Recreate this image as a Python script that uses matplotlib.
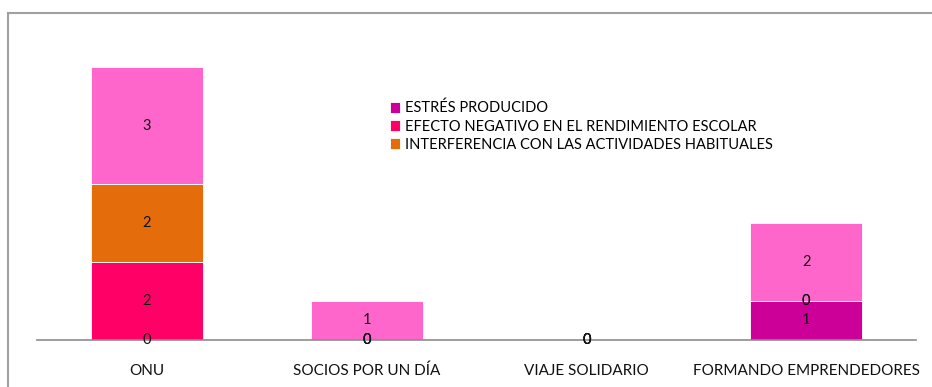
import matplotlib.pyplot as plt
from matplotlib.lines import Line2D
import numpy as np

plt.rcParams['font.family'] = ['Lato', 'DejaVu Sans']

categorias = ['ONU', 'SOCIOS POR UN DÍA', 'VIAJE SOLIDARIO', 'FORMANDO EMPRENDEDORES']
estres = [0, 0, 0, 1]
efecto_negativo = [2, 0, 0, 0]
interferencia = [2, 0, 0, 0]
otros = [3, 1, 0, 2]

series = [
    ('ESTRÉS PRODUCIDO', estres, '#CC0099'),
    ('EFECTO NEGATIVO EN EL RENDIMIENTO ESCOLAR', efecto_negativo, '#FF0066'),
    ('INTERFERENCIA CON LAS ACTIVIDADES HABITUALES', interferencia, '#E46C0A'),
    ('_otros', otros, '#FF66CC'),
]

W, H = 932, 387
fig = plt.figure(figsize=(W / 100, H / 100), dpi=100)
ax = fig.add_axes([37 / W, 1 - 340 / H, (916 - 37) / W, (340 - 28) / H])

x = np.arange(len(categorias))
base = np.zeros(len(categorias))
for nombre, valores, color in series:
    barras = ax.bar(x, valores, width=0.51, bottom=base, color=color,
                    edgecolor='white', linewidth=0.6, label=nombre)
    ax.bar_label(barras, label_type='center', fontsize=10.5, color='#111111')
    base += np.array(valores)

ax.set_xlim(-0.5, len(categorias) - 0.5)
ax.set_ylim(0, 8)
ax.set_xticks(x)
ax.set_xticklabels(categorias, fontsize=11, color='#111111')
ax.tick_params(axis='x', length=0, pad=17)
ax.set_yticks([])
for lado in ['top', 'right', 'left']:
    ax.spines[lado].set_visible(False)
ax.spines['bottom'].set_color('#8C8C8C')
ax.spines['bottom'].set_linewidth(1.2)

ax.legend(loc='upper left', bbox_to_anchor=(390 / W, 1 - 101 / H),
          bbox_transform=fig.transFigure, frameon=False, fontsize=10.5,
          handlelength=0.7, handleheight=0.7, handletextpad=0.35,
          labelspacing=0.28, borderaxespad=0, borderpad=0)

# marco del gráfico (solo se ven los bordes izquierdo y superior)
marco = dict(color='#A0A0A0', linewidth=1.5)
fig.add_artist(Line2D([8 / W, 8 / W], [0, 1 - 13 / H], transform=fig.transFigure, **marco))
fig.add_artist(Line2D([8 / W, 1], [1 - 13 / H, 1 - 13 / H], transform=fig.transFigure, **marco))

fig.savefig('out.png', dpi=100)
